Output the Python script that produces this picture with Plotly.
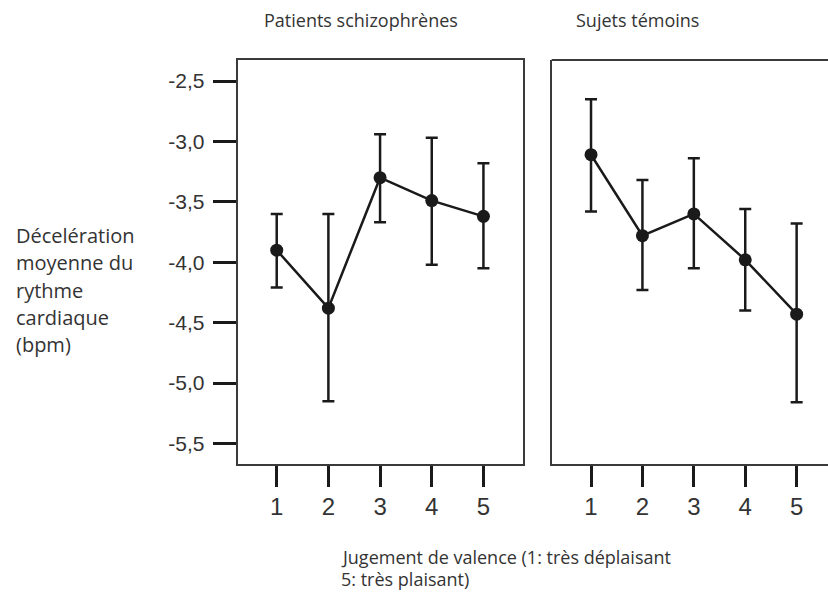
import plotly.graph_objects as go

# Data
valence = [1, 2, 3, 4, 5]
schizo_mean = [-3.90, -4.38, -3.30, -3.49, -3.62]
schizo_upper = [-3.60, -3.60, -2.94, -2.97, -3.18]
schizo_lower = [-4.21, -5.15, -3.67, -4.02, -4.05]
control_mean = [-3.11, -3.78, -3.60, -3.98, -4.43]
control_upper = [-2.65, -3.32, -3.14, -3.56, -3.68]
control_lower = [-3.58, -4.23, -4.05, -4.40, -5.16]
y_ticks = [-2.5, -3.0, -3.5, -4.0, -4.5, -5.0, -5.5]
y_tick_labels = ["-2,5", "-3,0", "-3,5", "-4,0", "-4,5", "-5,0", "-5,5"]
panel_titles = ["Patients schizophrènes", "Sujets témoins"]
y_title_lines = ["Décelération", "moyenne du", "rythme", "cardiaque", "(bpm)"]
x_title_lines = ["Jugement de valence (1: très déplaisant", "5: très plaisant)"]

W, H = 828, 603
INK = "#1a1a1a"
FRAME = "#3a3a3a"
TXT = "#333333"

def px_x(p):
    return p / W

def px_y(p):
    return 1 - p / H

fig = go.Figure()

def add_series(mean, upper, lower, xa, ya):
    fig.add_trace(go.Scatter(
        x=valence, y=mean, xaxis=xa, yaxis=ya,
        mode="lines+markers",
        line=dict(color=INK, width=2.5),
        marker=dict(color=INK, size=13),
        error_y=dict(
            type="data", symmetric=False,
            array=[u - m for u, m in zip(upper, mean)],
            arrayminus=[m - l for m, l in zip(mean, lower)],
            color=INK, thickness=2.5, width=6,
        ),
        showlegend=False, hoverinfo="skip",
    ))

add_series(schizo_mean, schizo_upper, schizo_lower, "x", "y")
add_series(control_mean, control_upper, control_lower, "x2", "y2")

y_range = [-5.666, -2.326]
ydom = [px_y(463.5), px_y(60)]

common_x = dict(
    tickmode="array", tickvals=valence, ticktext=[str(v) for v in valence],
    ticks="outside", ticklen=21, tickwidth=2.5, tickcolor=INK,
    showline=True, linecolor=FRAME, linewidth=2,
    showgrid=False, zeroline=False, automargin=False,
    tickfont=dict(family="Liberation Sans", size=24, color=TXT),
    ticklabelstandoff=0,
)

fig.update_layout(
    width=W, height=H,
    margin=dict(l=0, r=0, t=0, b=0),
    paper_bgcolor="white", plot_bgcolor="white",
    template="none",
    xaxis=dict(domain=[px_x(237.7), px_x(522.7)], range=[0.245, 5.76], mirror=True, **common_x),
    xaxis2=dict(domain=[px_x(551.7), 1.0], range=[0.235, 5.61], anchor="y2", mirror=False, **common_x),
    yaxis=dict(
        domain=ydom, range=y_range,
        tickmode="array", tickvals=y_ticks, ticktext=y_tick_labels,
        ticks="outside", ticklen=23, tickwidth=2.5, tickcolor=INK,
        showline=True, linecolor=FRAME, linewidth=2, mirror=True,
        showgrid=False, zeroline=False, automargin=False,
        tickfont=dict(family="Liberation Sans", size=21, color=TXT),
        ticklabelstandoff=4,
    ),
    yaxis2=dict(
        domain=ydom, range=y_range, anchor="x2", matches="y",
        showticklabels=False, ticks="",
        showline=True, linecolor=FRAME, linewidth=2, mirror=False,
        showgrid=False, zeroline=False, automargin=False,
    ),
)

# top border of the right panel (its right border is cut off in the reference)
fig.add_shape(type="line", xref="x2 domain", yref="y2 domain",
              x0=0, x1=1.02, y0=1, y1=1,
              line=dict(color=FRAME, width=2))

annotations = []
title_font = dict(family="Open Sans", size=18, color=TXT)
ytitle_font = dict(family="Open Sans", size=20, color=TXT)
for t, cx in zip(panel_titles, [361, 637]):
    annotations.append(dict(
        text=t, x=px_x(cx), y=px_y(20), xref="paper", yref="paper",
        xanchor="center", yanchor="middle", showarrow=False, font=title_font,
    ))
for i, line in enumerate(y_title_lines):
    annotations.append(dict(
        text=line, x=px_x(14), y=px_y(235 + 27.5 * i), xref="paper", yref="paper",
        xanchor="left", yanchor="middle", showarrow=False, font=ytitle_font,
    ))
for i, line in enumerate(x_title_lines):
    annotations.append(dict(
        text=line, x=px_x(339), y=px_y(557 + 21.5 * i), xref="paper", yref="paper",
        xanchor="left", yanchor="middle", showarrow=False, font=title_font,
    ))
fig.update_layout(annotations=annotations)

fig.write_html(
    "out.html",
    config={"displayModeBar": False},
    post_script="document.body.style.margin='0';document.body.style.overflow='hidden';",
)
